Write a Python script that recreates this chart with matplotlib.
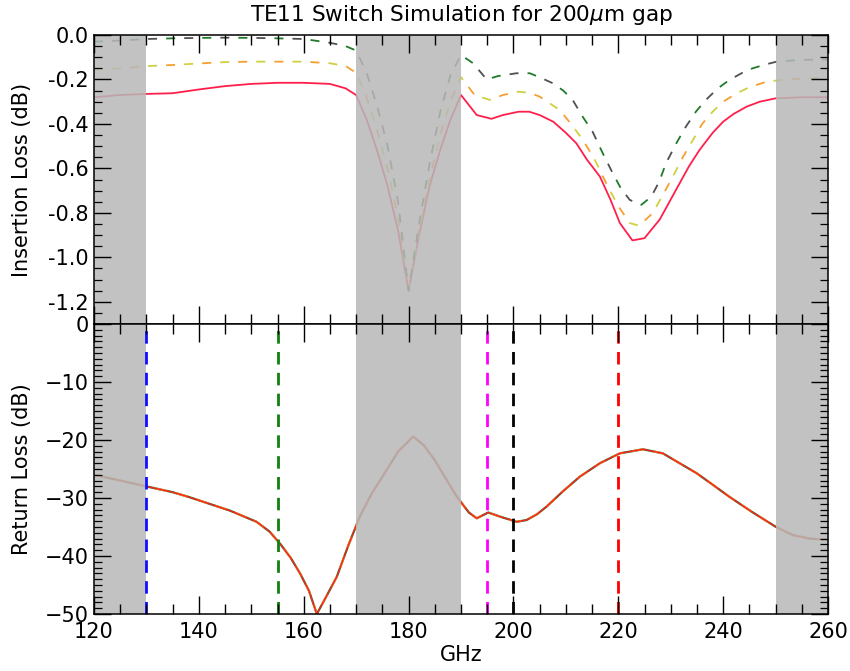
import matplotlib
matplotlib.use("Agg")
import matplotlib.pyplot as plt
from matplotlib.ticker import MultipleLocator, FormatStrFormatter

# ---------------- data ----------------
f_red = [120, 125, 130, 135, 140, 145, 150, 155, 160, 165, 168, 170, 172, 174, 176, 178, 180, 182, 184, 186, 188, 190,
         193, 195.8, 198, 201, 203, 205, 207.6, 210, 212, 214, 216.5, 218.5, 220.3, 222.7, 225, 227.9, 230, 231.7,
         233.5, 235.5, 238, 240, 242, 244.5, 247, 250, 255, 260]
il_red = [-0.28, -0.27, -0.265, -0.262, -0.245, -0.23, -0.22, -0.215, -0.215, -0.22, -0.24, -0.27, -0.38, -0.52,
          -0.68, -0.88, -1.15, -0.9, -0.68, -0.52, -0.38, -0.27,
          -0.36, -0.377, -0.36, -0.345, -0.345, -0.36, -0.39, -0.44, -0.487, -0.56, -0.637, -0.74, -0.846, -0.924,
          -0.914, -0.83, -0.74, -0.667, -0.59, -0.517, -0.44, -0.39, -0.355, -0.322, -0.30, -0.285, -0.28, -0.28]

f_orange = [120, 125, 130, 135, 140, 145, 150, 155, 160, 165, 168, 170, 172, 174, 176, 178, 180, 182, 184, 186, 188,
            190, 192.6, 195.5, 198, 201, 203, 205, 208.8, 211, 213.2, 215.5, 217.7, 220, 222.2, 224, 226.6, 228.5,
            230.4, 232.3, 234.3, 236, 238, 240, 242.6, 245, 248.3, 252, 256, 260]
il_orange = [-0.155, -0.15, -0.14, -0.135, -0.128, -0.122, -0.12, -0.12, -0.12, -0.127, -0.14, -0.17, -0.28, -0.43,
             -0.6, -0.82, -1.15, -0.88, -0.65, -0.45, -0.3, -0.19, -0.27, -0.292, -0.27, -0.255, -0.26, -0.277,
             -0.337, -0.4, -0.47, -0.56, -0.667, -0.77, -0.846, -0.858, -0.8, -0.72, -0.637, -0.55, -0.47, -0.4,
             -0.345, -0.30, -0.262, -0.235, -0.21, -0.20, -0.195, -0.19]

f_green = [120, 125, 130, 135, 140, 145, 150, 155, 160, 165, 168, 170, 172, 174, 176, 178, 180, 182, 184, 186, 188,
           190, 192.3, 194.9, 197, 200.6, 203.1, 205, 207.5, 209.5, 211.3, 213, 215.1, 217, 218.9, 220.5, 222.2,
           224.4, 226.3, 227.8, 229.1, 231, 232.9, 234.8, 236.7, 239, 241.2, 243.5, 245.6, 248, 250.2, 254.6, 260]
il_green = [-0.03, -0.025, -0.018, -0.015, -0.013, -0.012, -0.013, -0.015, -0.018, -0.035, -0.05, -0.07, -0.17, -0.32,
            -0.5, -0.75, -1.15, -0.85, -0.58, -0.35, -0.18, -0.09, -0.127, -0.2, -0.185, -0.172, -0.172, -0.19,
            -0.217, -0.25, -0.292, -0.36, -0.435, -0.53, -0.62, -0.69, -0.742, -0.764, -0.727, -0.66, -0.577, -0.49,
            -0.412, -0.345, -0.292, -0.24, -0.202, -0.172, -0.15, -0.133, -0.12, -0.112, -0.11]

f_rl = [120, 125, 130, 135, 138, 142, 146, 151, 153.5, 155.6, 157.5, 159.3, 161, 162.5, 164, 166.3, 168.5, 170.7,
        173, 175.8, 178, 180.9, 183, 185, 187, 189, 190.4, 191.5, 193, 195.2, 197.4, 200.6, 202.5, 204.5, 206.3,
        209.5, 212.7, 216.5, 220.3, 224.7, 228.5, 231.5, 234.9, 238, 241.2, 245.5, 250.1, 253.3, 256.5, 260]
rl = [-26.0, -27.0, -28.0, -29.0, -29.8, -31.0, -32.2, -34.1, -35.8, -38.0, -40.3, -43.0, -46.0, -50.0, -47.5,
      -43.6, -38.2, -33.2, -29.2, -25.2, -22.0, -19.4, -21.0, -23.5, -26.5, -29.5, -31.2, -32.5, -33.5, -32.5,
      -33.2, -34.1, -33.8, -32.8, -31.5, -28.8, -26.3, -24.0, -22.3, -21.6, -22.3, -23.9, -25.7, -27.7, -29.8,
      -32.4, -35.0, -36.4, -37.0, -37.2]

shaded_bands = [(120, 130), (170, 190), (250, 260)]
marker_freqs = [130, 155, 195, 200, 220]
marker_colors = ["#1010ff", "#108010", "#ff00ff", "#000000", "#ff0000"]

title = r"TE11 Switch Simulation for 200$\mu$m gap"

# ---------------- figure ----------------
FS = 15
plt.rcParams["font.family"] = ["DejaVu Sans"]
fig = plt.figure(figsize=(8.5, 6.71), dpi=100)
L, R = 94 / 850, 828 / 850
y_top, y_mid, y_bot = 1 - 35 / 671, 1 - 324 / 671, 1 - 614 / 671
ax1 = fig.add_axes([L, y_mid, R - L, y_top - y_mid])
ax2 = fig.add_axes([L, y_bot, R - L, y_mid - y_bot], sharex=ax1)

shade_col = (0.72, 0.72, 0.72)

# top panel
ax1.plot(f_red, il_red, color="#ff1f4b", lw=1.3, zorder=1)
ax1.plot(f_orange, il_orange, color="#f5a030", lw=1.3, linestyle=(0, (5, 15)), zorder=1)
ax1.plot(f_orange, il_orange, color="#cfd040", lw=1.3, linestyle=(10, (5, 15)), zorder=1)
ax1.plot(f_green, il_green, color="#1f7a2a", lw=1.3, linestyle=(0, (5, 15)), zorder=1)
ax1.plot(f_green, il_green, color="#505050", lw=1.3, linestyle=(10, (5, 15)), zorder=1)

# bottom panel
ax2.plot(f_rl, rl, color="#1f7a2a", lw=1.6, zorder=1)
ax2.plot(f_rl, rl, color="#f5a030", lw=1.5, linestyle=(0, (6, 4)), zorder=1)
ax2.plot(f_rl, rl, color="#ff2020", lw=1.0, zorder=1)

for ax in (ax1, ax2):
    for a, b in shaded_bands:
        ax.axvspan(a, b, color=shade_col, alpha=0.85, lw=0, zorder=1.5)

for fx, c in zip(marker_freqs, marker_colors):
    ax2.axvline(fx, color=c, lw=2.0, linestyle=(0, (4.5, 3)), zorder=2)

ax1.set_xlim(120, 260)
ax1.set_ylim(-1.3, 0.0)
ax2.set_ylim(-50, 0)

ax1.xaxis.set_major_locator(MultipleLocator(20))
ax1.xaxis.set_minor_locator(MultipleLocator(5))
ax1.yaxis.set_major_locator(MultipleLocator(0.2))
ax1.yaxis.set_minor_locator(MultipleLocator(0.05))
ax1.yaxis.set_major_formatter(FormatStrFormatter("%.1f"))
ax2.yaxis.set_major_locator(MultipleLocator(10))
ax2.yaxis.set_minor_locator(MultipleLocator(1))

for ax in (ax1, ax2):
    ax.set_axisbelow(False)
    ax.tick_params(axis="x", which="major", direction="in", length=13, width=1.0, top=True, bottom=True, pad=6)
    ax.tick_params(axis="x", which="minor", direction="in", length=7, width=1.0, top=True, bottom=True)
    ax.tick_params(axis="y", which="major", direction="in", length=12, width=1.0, left=True, right=True, pad=4)
    ax.tick_params(axis="y", which="minor", direction="in", length=6, width=0.9, left=True, right=True)
    ax.tick_params(labelsize=FS)
    for s in ax.spines.values():
        s.set_linewidth(1.1)
        s.set_zorder(5)

ax1.tick_params(axis="x", labelbottom=False)
ax1.set_ylabel("Insertion Loss (dB)", fontsize=FS)
ax2.set_ylabel("Return Loss (dB)", fontsize=FS)
ax1.yaxis.set_label_coords(-0.084, 0.5)
ax2.yaxis.set_label_coords(-0.084, 0.5)
ax2.set_xlabel("GHz", fontsize=FS, labelpad=2)
ax1.set_title(title, fontsize=15.6, pad=10)

fig.savefig("out.png", dpi=100)
